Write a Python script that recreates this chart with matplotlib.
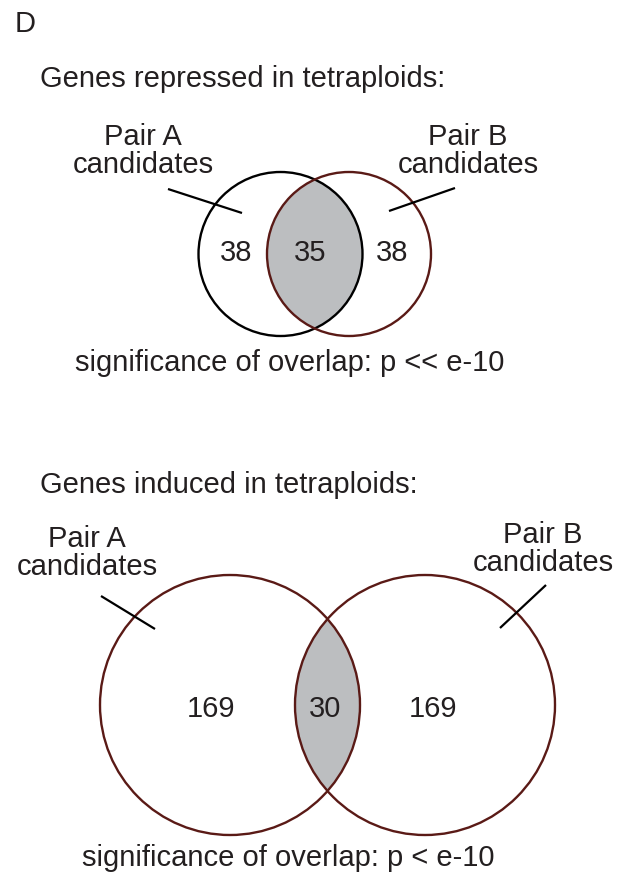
import matplotlib.pyplot as plt
from matplotlib.patches import Circle

# DATA
repressed_counts = [38, 35, 38]   # only A, A and B, only B
induced_counts = [169, 30, 169]
set_names = ['Pair A', 'Pair B']
set_sub = 'candidates'
panel_titles = ['Genes repressed in tetraploids:', 'Genes induced in tetraploids:']
overlap_notes = ['significance of overlap: p << e-10',
                 'significance of overlap: p < e-10']

# STYLE
plt.rcParams['font.family'] = ['Liberation Sans', 'DejaVu Sans']
TXT = '#231f20'
RED = '#5a1a16'
GRAY = '#bcbec0'
FS = 21

fig = plt.figure(figsize=(6.21, 8.75), dpi=100)
ax = fig.add_axes([0, 0, 1, 1])
ax.set_xlim(0, 621)
ax.set_ylim(875, 0)
ax.set_aspect('equal')
ax.axis('off')


def venn(ax, c1, c2, r, col1, col2, counts, num_x, num_y):
    fill = Circle(c1, r, facecolor=GRAY, edgecolor='none', zorder=1)
    ax.add_patch(fill)
    clip = Circle(c2, r, transform=ax.transData)
    fill.set_clip_path(clip)
    ax.add_patch(Circle(c1, r, facecolor='none', edgecolor=col1, lw=1.7, zorder=3))
    ax.add_patch(Circle(c2, r, facecolor='none', edgecolor=col2, lw=1.7, zorder=3))
    for x, n in zip(num_x, counts):
        ax.text(x, num_y, str(n), ha='center', va='baseline', fontsize=FS, color=TXT, zorder=4)


def set_label(ax, x, y, name, line):
    ax.text(x, y, name, ha='center', va='baseline', fontsize=FS, color=TXT)
    ax.text(x, y + 28, set_sub, ha='center', va='baseline', fontsize=FS, color=TXT)
    ax.plot(line[0], line[1], color='black', lw=1.6, zorder=5, solid_capstyle='butt')


ax.text(15, 32, 'D', ha='left', va='baseline', fontsize=FS, color=TXT)

# top panel
ax.text(40, 87, panel_titles[0], ha='left', va='baseline', fontsize=FS, color=TXT)
set_label(ax, 143, 145, set_names[0], ([168, 242], [189, 213]))
set_label(ax, 468, 145, set_names[1], ([455, 389], [188, 211]))
venn(ax, (280.5, 254), (349, 254), 82, 'black', RED, repressed_counts,
     [236, 310, 392], 261)
ax.text(290, 371, overlap_notes[0], ha='center', va='baseline', fontsize=FS, color=TXT)

# bottom panel
ax.text(40, 493, panel_titles[1], ha='left', va='baseline', fontsize=FS, color=TXT)
set_label(ax, 87, 547, set_names[0], ([101, 155], [596, 629]))
set_label(ax, 543, 543, set_names[1], ([546, 500], [585, 628]))
venn(ax, (230, 705), (425, 705), 130, RED, RED, induced_counts,
     [211, 325, 433], 717)
ax.text(288, 866, overlap_notes[1], ha='center', va='baseline', fontsize=FS, color=TXT)

fig.savefig('out.png', dpi=100)
